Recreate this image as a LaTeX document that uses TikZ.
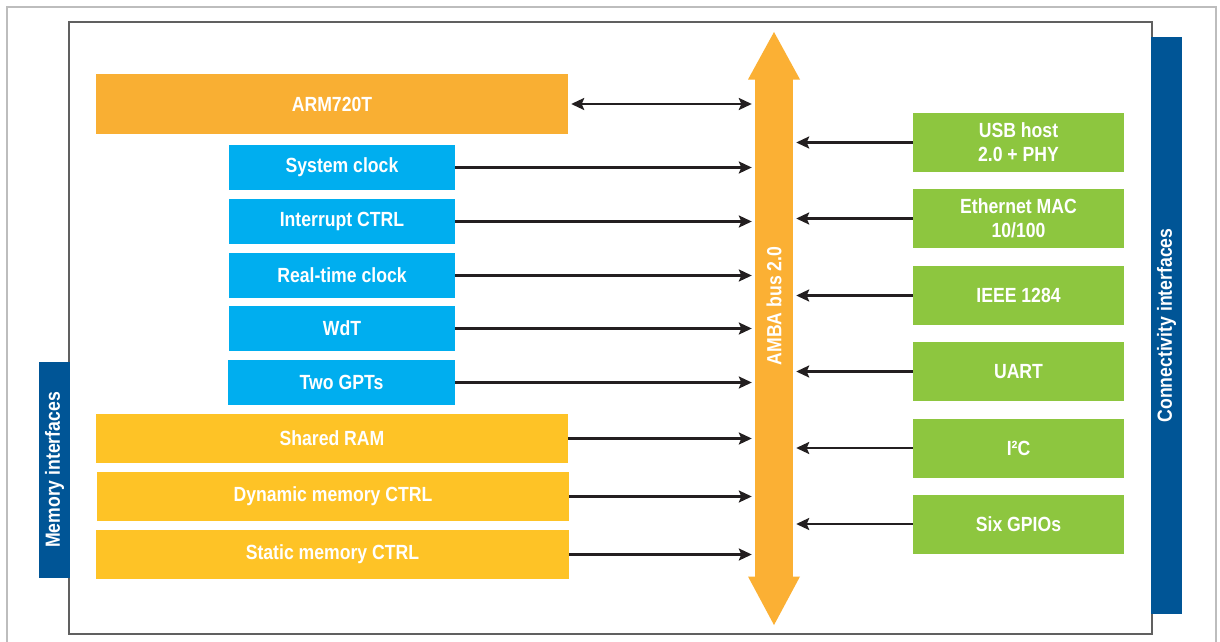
\documentclass[tikz,border=0pt]{standalone}
\usepackage{fontspec}
\setmainfont{Liberation Sans}[FakeStretch=0.86]
\usetikzlibrary{arrows.meta}
\definecolor{armor}{HTML}{F9AF33}
\definecolor{busor}{HTML}{FBB034}
\definecolor{memyel}{HTML}{FEC326}
\definecolor{perblue}{HTML}{00AEEF}
\definecolor{congreen}{HTML}{8DC63F}
\definecolor{darkblue}{HTML}{005596}
\definecolor{arrowdark}{HTML}{231F20}
\definecolor{framegray}{HTML}{606060}
\definecolor{outergray}{HTML}{BDBDBD}
\begin{document}
\begin{tikzpicture}[x=1pt,y=-1pt,
  box/.style={rectangle, inner sep=0pt, text=white, font=\fontsize{20.5}{24}\selectfont\bfseries, align=center},
  armbox/.style={box, fill=armor, minimum width=472pt, minimum height=60pt},
  memnode/.style={box, fill=memyel, minimum width=472pt, minimum height=49pt},
  perbox/.style={box, fill=perblue, minimum width=226pt, minimum height=45pt},
  conbox/.style={box, fill=congreen, minimum width=211pt, minimum height=59pt},
  sidebar/.style={box, fill=darkblue, minimum width=31pt},
  sidetext/.style={box, rotate=90},
  tip/.tip={Stealth[length=13pt,width=12pt,inset=2.5pt]},
  arr/.style={draw=arrowdark, line width=2.3pt, -tip, shorten >=3pt},
  darr/.style={arr, tip-tip, shorten <=3pt}
]
\useasboundingbox (0,0) rectangle (1220,642);
\fill[white] (0,0) rectangle (1220,642);
% outer light frame
\draw[outergray, line width=1.5pt] (7,660) -- (7,7) -- (1216,7) -- (1216,660);
% inner frame
\draw[framegray, line width=1.5pt] (69,22) rectangle (1152,634);

% side bars
\node[sidebar, minimum height=216pt] (membar) at (54.5,470) {};
\node[sidetext] (memtext) at (membar.center) {Memory interfaces};
\node[sidebar, minimum height=577pt] (conbar) at (1166.5,325.5) {};
\node[sidetext] (context) at (conbar.center) {Connectivity interfaces};

% bus
\node[rectangle, fill=busor, inner sep=0pt, minimum width=38pt, minimum height=498pt] (bus) at (774,328) {};
\fill[busor] (748,79.5) -- (774,32) -- (800,79.5) -- cycle;
\fill[busor] (748,576.5) -- (774,625) -- (800,576.5) -- cycle;
\node[sidetext] (amba) at (774,306) {AMBA bus 2.0};

% left blocks
\node[armbox] (arm) at (332,104) {ARM720T};
\node[perbox] (sysclk) at (342,167.5) {System clock};
\node[perbox] (intr) at (342,221.5) {Interrupt CTRL};
\node[perbox] (rtc) at (342,275.5) {Real-time clock};
\node[perbox] (wdt) at (342,328.5) {WdT};
\node[perbox, minimum width=227pt] (gpt) at (341.5,382.5) {Two GPTs};
\node[memnode] (ram) at (332,438.5) {Shared RAM};
\node[memnode] (dyn) at (333,496.5) {Dynamic memory CTRL};
\node[memnode, minimum width=473pt] (stat) at (332.5,554.5) {Static memory CTRL};

% right blocks
\node[conbox] (usb) at (1018.5,142.5) {USB host\\2.0 + PHY};
\node[conbox] (eth) at (1018.5,218.5) {Ethernet MAC\\10/100};
\node[conbox] (ieee) at (1018.5,295.5) {IEEE 1284};
\node[conbox] (uart) at (1018.5,371.5) {UART};
\node[conbox] (i2c) at (1018.5,448) {I²C};
\node[conbox] (gpio) at (1018.5,524) {Six GPIOs};

% connectors
\draw[darr] (arm.east) -- (arm.east -| bus.west);
\foreach \n in {sysclk,intr,rtc,wdt,gpt,ram,dyn,stat}
  \draw[arr] (\n.east) -- (\n.east -| bus.west);
\foreach \n in {usb,eth,ieee,uart,i2c,gpio}
  \draw[arr] (\n.west) -- (\n.west -| bus.east);
\end{tikzpicture}
\end{document}
